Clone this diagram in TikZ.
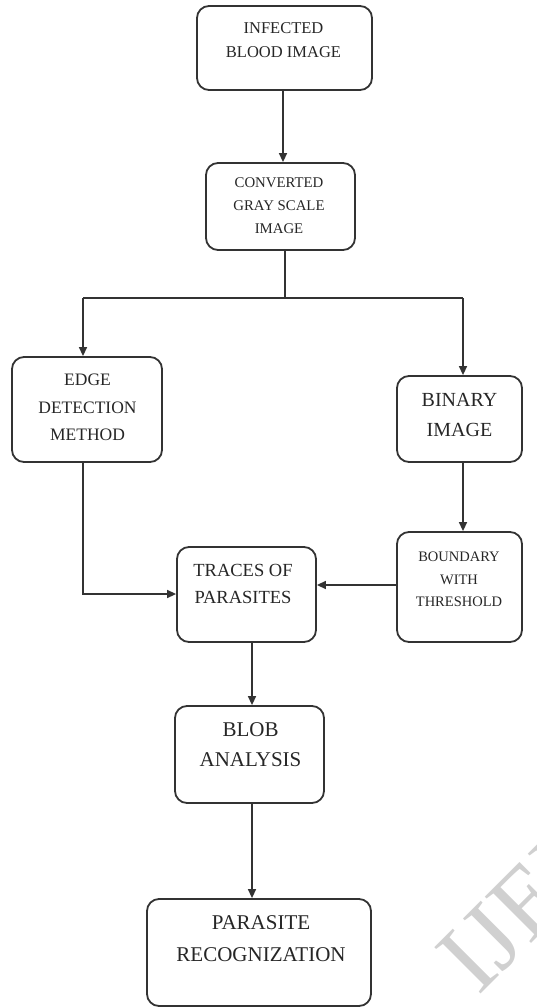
\documentclass[tikz,border=0pt]{standalone}
\usepackage{fontspec}
\setmainfont{Liberation Serif}
\usetikzlibrary{arrows.meta}
\definecolor{ln}{HTML}{333333}
\definecolor{wm}{HTML}{D0D0D0}
\tikzset{
  box/.style={draw=ln, line width=1.8pt, rounded corners=12pt, inner sep=0pt},
  txt/.style={inner sep=0pt, align=center, text=black!85},
  conn/.style={draw=ln, line width=1.4pt},
  arr/.style={conn, -{Triangle[length=9pt,width=8pt]}},
}
\newcommand{\fs}[2]{\fontsize{#1}{#2}\selectfont}
\begin{document}
\begin{tikzpicture}[x=1pt,y=-1pt]
\path[use as bounding box] (0,0) rectangle (536,1008);
\begin{scope}
\clip (0,0) rectangle (536,1008);
\node[text=wm, rotate=45, anchor=base west, inner sep=0pt, font=\fs{100}{100}] (wmk) at (478,997) {IJERT};
\end{scope}
% boxes
\node[box, minimum width=175pt, minimum height=84pt] (b1) at (284.5,48) {};
\node[box, minimum width=149pt, minimum height=87pt] (b2) at (280.5,206.5) {};
\node[box, minimum width=150pt, minimum height=105pt] (edge) at (87,409.5) {};
\node[box, minimum width=125pt, minimum height=86pt] (bin) at (459.5,419) {};
\node[box, minimum width=125pt, minimum height=110pt] (bnd) at (459.5,587) {};
\node[box, minimum width=139pt, minimum height=95pt] (trc) at (246.5,594.5) {};
\node[box, minimum width=149pt, minimum height=97pt] (blob) at (249.5,754.5) {};
\node[box, minimum width=224pt, minimum height=107pt] (par) at (259,952.5) {};
% texts
\node[txt, font=\fs{16.5}{24}] (t1) at (283.5,40) {INFECTED\\BLOOD IMAGE};
\node[txt, font=\fs{14.8}{23}] (t2) at (279,206) {CONVERTED\\GRAY SCALE\\IMAGE};
\node[txt, font=\fs{17.5}{27.5}] (te) at (87.5,407.5) {EDGE\\DETECTION\\METHOD};
\node[txt, font=\fs{20}{30}] (tb) at (459.5,415) {BINARY\\IMAGE};
\node[txt, font=\fs{14.5}{22.5}] (tbd) at (459,579.5) {BOUNDARY\\WITH\\THRESHOLD};
\node[txt, font=\fs{18.5}{27}] (tt) at (243,583.5) {TRACES OF\\PARASITES};
\node[txt, font=\fs{21}{30}] (tbl) at (250.5,745) {BLOB\\ANALYSIS};
\node[txt, font=\fs{21}{32}] (tp) at (261,939) {PARASITE\\RECOGNIZATION};
% connectors
\coordinate (c1) at (283,0);
\draw[arr] (b1.south -| c1) -- (b2.north -| c1);
\coordinate (split) at (285,298);
\coordinate (lx) at (83,298);
\coordinate (rx) at (463,298);
\draw[conn] (b2.south -| split) -- (split);
\draw[conn] (lx) -- (rx);
\draw[arr] (lx) -- (edge.north -| lx);
\draw[arr] (rx) -- (bin.north -| rx);
\draw[arr] (bin.south -| rx) -- (bnd.north -| rx);
\coordinate (ey) at (0,594);
\draw[arr] (edge.south -| lx) |- (trc.west |- ey);
\coordinate (by) at (0,585);
\draw[arr] (bnd.west |- by) -- (trc.east |- by);
\coordinate (cx) at (252,0);
\draw[arr] (trc.south -| cx) -- (blob.north -| cx);
\draw[arr] (blob.south -| cx) -- (par.north -| cx);
\end{tikzpicture}
\end{document}
